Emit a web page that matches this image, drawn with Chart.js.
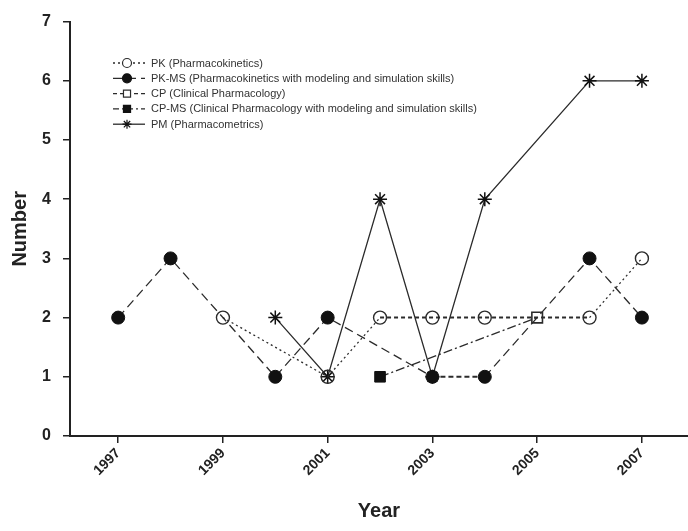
<!DOCTYPE html>
<html>
<head>
<meta charset="utf-8">
<script src="https://cdn.jsdelivr.net/npm/chart.js@4.4.1/dist/chart.umd.min.js"></script>
<style>
  html,body{margin:0;padding:0;background:#fff;}
  #wrap{width:688px;height:531px;position:relative;}
</style>
</head>
<body>
<div id="wrap"><canvas id="c" width="688" height="531"></canvas></div>
<script>
// ---- data ----
const years = [1997, 1998, 1999, 2000, 2001, 2002, 2003, 2004, 2005, 2006, 2007];
const tickYears = [1997, 1999, 2001, 2003, 2005, 2007];
const yTicks = [0, 1, 2, 3, 4, 5, 6, 7];
const seriesNames = [
  'PK (Pharmacokinetics)',
  'PK-MS (Pharmacokinetics with modeling and simulation skills)',
  'CP (Clinical Pharmacology)',
  'CP-MS (Clinical Pharmacology with modeling and simulation skills)',
  'PM (Pharmacometrics)'
];
const pk   = [null, null, 2, null, 1, 2, 2, 2, null, 2, 3];
const pkMs = [2, 3, null, 1, 2, null, 1, 1, null, 3, 2];
const cp   = [null, null, null, null, null, null, null, null, 2, null, null];
const cpMs = [null, null, null, null, null, 1, null, null, 2, null, null];
const pm   = [null, null, null, 2, 1, 4, 1, 4, null, 6, 6];

const toXY = arr => arr.map((v, i) => ({x: years[i], y: v}));
const ink = '#2b2b2b';
const boldPk = ctx => ctx.p0.parsed.x >= 2002 && ctx.p1.parsed.x <= 2006;
const boldPkMs = ctx => ctx.p0.parsed.x === 2003 && ctx.p1.parsed.x === 2004;

const datasets = [
  {label: seriesNames[0], data: toXY(pk), borderColor: ink, borderWidth: 1.3, borderDash: [2, 3],
   pointStyle: 'circle', pointRadius: 6.5, pointBorderWidth: 1.4, pointBorderColor: ink, pointBackgroundColor: 'rgba(255,255,255,0)',
   segment: {borderDash: ctx => boldPk(ctx) ? [4, 3] : [2, 3],
             borderWidth: ctx => boldPk(ctx) ? 2 : 1.3}},
  {label: seriesNames[1], data: toXY(pkMs), borderColor: ink, borderWidth: 1.3, borderDash: [9, 5],
   pointStyle: 'circle', pointRadius: 6.5, pointBorderWidth: 1, pointBorderColor: '#111', pointBackgroundColor: '#111',
   segment: {borderDash: ctx => boldPkMs(ctx) ? [5, 3] : [9, 5],
             borderWidth: ctx => boldPkMs(ctx) ? 2 : 1.3}},
  {label: seriesNames[2], data: toXY(cp), borderColor: ink, borderWidth: 2, borderDash: [4, 3],
   pointStyle: 'rect', pointRadius: 7.5, pointBorderWidth: 1.6, pointBorderColor: ink, pointBackgroundColor: 'rgba(255,255,255,0)'},
  {label: seriesNames[3], data: toXY(cpMs), borderColor: ink, borderWidth: 1.3, borderDash: [9, 3, 2, 3],
   pointStyle: 'rect', pointBorderWidth: 1, pointBorderColor: '#111', pointBackgroundColor: '#111',
   pointRadius: ctx => (cp[ctx.dataIndex] != null ? 0 : 7.5)},
  {label: seriesNames[4], data: toXY(pm), borderColor: ink, borderWidth: 1.3, borderDash: [],
   pointStyle: 'star', pointRadius: 7, pointBorderWidth: 1.5, pointBorderColor: '#111', pointBackgroundColor: '#111'}
];

// legend drawn inside the plot area, top-left
const insideLegend = {
  id: 'insideLegend',
  afterDraw(chart) {
    const ctx = chart.ctx;
    const x0 = 113, x1 = 145, tx = 151, y0 = 63, dy = 15.3;
    const dashes = [[2, 3], [9, 5], [4, 3], [6, 3, 2, 3], []];
    ctx.save();
    chart.data.datasets.forEach((ds, i) => {
      const y = y0 + i * dy;
      ctx.beginPath();
      ctx.setLineDash(dashes[i]);
      ctx.strokeStyle = ink;
      ctx.lineWidth = 1.3;
      ctx.moveTo(x0, y); ctx.lineTo(x1, y);
      ctx.stroke();
      ctx.setLineDash([]);
      const st = {pointStyle: ds.pointStyle, radius: ds.pointStyle === 'rect' ? 5 : 4.5, rotation: 0,
                  borderWidth: 1.2};
      ctx.fillStyle = (i === 0 || i === 2) ? '#fff' : '#111';
      ctx.strokeStyle = ds.pointBorderColor;
      ctx.lineWidth = 1.2;
      Chart.helpers.drawPoint(ctx, st, (x0 + x1) / 2 - 2, y);
      ctx.fillStyle = '#333';
      ctx.font = '11px "Liberation Sans", Arial, sans-serif';
      ctx.textBaseline = 'middle';
      ctx.textAlign = 'left';
      ctx.fillText(ds.label, tx, y + 0.5);
    });
    ctx.restore();
  }
};

new Chart(document.getElementById('c'), {
  type: 'line',
  data: {datasets},
  options: {
    responsive: false,
    animation: false,
    spanGaps: true,
    layout: {autoPadding: false, padding: {top: 21, right: 0, left: 0, bottom: 0}},
    plugins: {legend: {display: false}, tooltip: {enabled: false}},
    scales: {
      x: {
        type: 'linear', min: 1996.08, max: 2007.88,
        afterBuildTicks: s => { s.ticks = tickYears.map(v => ({value: v})); },
        afterFit: s => { s.height = 95; s.paddingRight = 0; },
        grid: {display: true, drawOnChartArea: false, drawTicks: true, tickLength: 7, color: '#222', lineWidth: 1.5},
        border: {display: true, color: '#222', width: 2},
        ticks: {minRotation: 45, maxRotation: 45, autoSkip: false, padding: 2, color: '#222',
                font: {family: '"Liberation Sans", Arial, sans-serif', size: 14, weight: 'bold'},
                callback: v => String(v)},
        title: {display: true, text: 'Year', color: '#222', padding: {top: 0, bottom: 8},
                font: {family: '"Liberation Sans", Arial, sans-serif', size: 20, weight: 'bold'}}
      },
      y: {
        type: 'linear', min: 0, max: 7,
        afterBuildTicks: s => { s.ticks = yTicks.map(v => ({value: v})); },
        afterFit: s => { s.width = 70; },
        grid: {display: true, drawOnChartArea: false, drawTicks: true, tickLength: 7, color: '#222', lineWidth: 1.5},
        border: {display: true, color: '#222', width: 2},
        ticks: {padding: 12, color: '#222',
                font: {family: '"Liberation Sans", Arial, sans-serif', size: 16, weight: 'bold'}},
        title: {display: true, text: 'Number', color: '#222', padding: {top: 8, bottom: 2},
                font: {family: '"Liberation Sans", Arial, sans-serif', size: 20, weight: 'bold'}}
      }
    }
  },
  plugins: [insideLegend]
});
</script>
</body>
</html>
